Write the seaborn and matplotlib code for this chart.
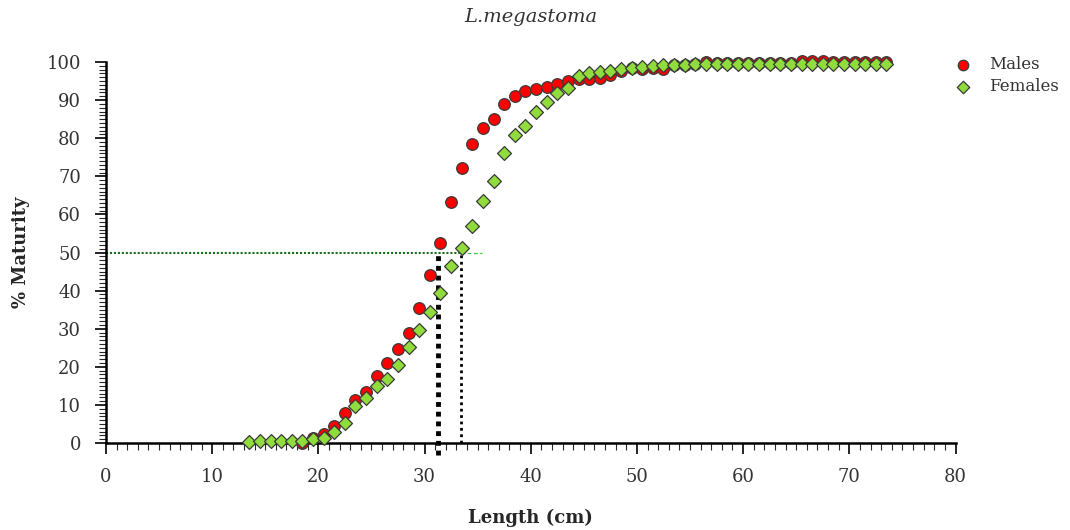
import numpy as np
import pandas as pd
import matplotlib
matplotlib.use("Agg")
import matplotlib.pyplot as plt
from matplotlib.ticker import MultipleLocator
import seaborn as sns

# ---- data ----
male_length = [18.5 + i for i in range(56)]
male_pct = [0.0, 1.3, 2.4, 4.5, 7.9, 11.3, 13.4, 17.6, 21.0, 24.7,
            28.9, 35.4, 44.1, 52.5, 63.3, 72.2, 78.5, 82.7, 85.0, 89.0,
            91.2, 92.4, 92.9, 93.5, 94.2, 95.0, 95.5, 95.5, 95.8, 96.6,
            97.6, 98.4, 98.2, 98.4, 98.2, 99.2, 99.2, 99.5, 100.0, 99.8,
            99.8, 99.8, 99.8, 99.8, 99.8, 99.8, 99.8, 100.3, 100.2, 100.2,
            100.0, 100.0, 100.0, 100.0, 100.0, 100.0]
female_length = [13.5 + i for i in range(61)]
female_pct = [0.3, 0.5, 0.5, 0.5, 0.5, 0.5, 1.0, 1.3, 2.9, 5.2,
              9.7, 11.8, 15.0, 16.8, 20.5, 25.2, 29.7, 34.4, 39.4, 46.5,
              51.2, 57.0, 63.5, 68.8, 76.1, 80.8, 83.2, 86.9, 89.5, 91.9,
              93.2, 96.3, 97.1, 97.4, 97.6, 98.2, 98.4, 98.7, 99.0, 99.2,
              99.2, 99.2, 99.4, 99.4, 99.4, 99.4, 99.4, 99.4, 99.4, 99.4,
              99.4, 99.4, 99.4, 99.5, 99.5, 99.5, 99.5, 99.5, 99.5, 99.5, 99.5]
l50_male = 31.3
l50_female = 33.4
title = "L.megastoma"
xlabel = "Length (cm)"
ylabel = "% Maturity"
series = ["Males", "Females"]

males = pd.DataFrame({"Length": male_length, "Maturity": male_pct})
females = pd.DataFrame({"Length": female_length, "Maturity": female_pct})

sns.set_theme(style="ticks")
plt.rcParams["font.family"] = ["DejaVu Serif"]

fig = plt.figure(figsize=(10.7, 5.3), dpi=100)
ax = fig.add_axes([0.099, 0.164, 0.794, 0.719])

# reference lines
ax.plot([0, l50_female], [50, 50], color="#1a6e1a", lw=1.5, ls=(0, (1, 0.9)), zorder=2)
ax.plot([l50_female, 35.4], [50, 50], color="#3cc43c", lw=0.9, ls=(0, (3, 2)), zorder=2)
ax.plot([l50_male, l50_male], [-3.2, 50], color="black", lw=3.5, ls=(0, (1, 1.0)),
        clip_on=False, zorder=2)
ax.plot([l50_female, l50_female], [0, 50], color="black", lw=2.0, ls=(0, (1, 1.3)),
        zorder=2)

sns.scatterplot(data=males, x="Length", y="Maturity", color="#ff0000", marker="o",
                s=70, edgecolor="#3a3a3a", linewidth=0.9, ax=ax, zorder=3,
                clip_on=False, label=series[0])
sns.scatterplot(data=females, x="Length", y="Maturity", color="#8fdc3c", marker="D",
                s=50, edgecolor="#3a3a3a", linewidth=0.9, ax=ax, zorder=4,
                clip_on=False, label=series[1])

ax.set_xlim(0, 80)
ax.set_ylim(0, 100)
ax.xaxis.set_major_locator(MultipleLocator(10))
ax.xaxis.set_minor_locator(MultipleLocator(1))
ax.yaxis.set_major_locator(MultipleLocator(10))
ax.yaxis.set_minor_locator(MultipleLocator(1))
ax.tick_params(axis="both", which="major", length=8, width=1.2, labelsize=13,
               colors="black", labelcolor="#333333", pad=10, direction="out")
ax.tick_params(axis="both", which="minor", length=5, width=0.8, direction="out")
for s in ["top", "right"]:
    ax.spines[s].set_visible(False)
for s in ["left", "bottom"]:
    ax.spines[s].set_linewidth(1.8)
    ax.spines[s].set_color("black")

ax.set_xlabel(xlabel, fontsize=13, fontweight="bold", labelpad=16)
ax.set_ylabel(ylabel, fontsize=13, fontweight="bold", labelpad=12)
ax.set_title(title, fontsize=14, style="italic", color="#333333", pad=29)

leg = ax.legend(loc="upper left", bbox_to_anchor=(0.979, 1.055), frameon=False,
                fontsize=12, handletextpad=1.0, labelspacing=0.3, title=None,
                markerscale=0.9, handlelength=1.2)
for t in leg.get_texts():
    t.set_color("#333333")

fig.savefig("out.png", dpi=100)
